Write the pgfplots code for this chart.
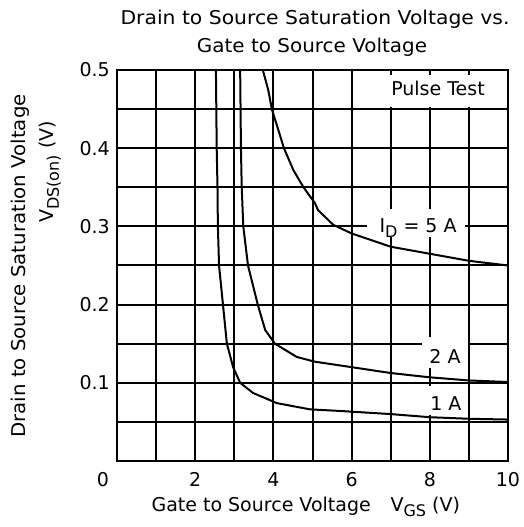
\documentclass[border=0pt]{standalone}
\usepackage{fontspec}
\setmainfont{DejaVu Sans}
\usepackage{pgfplots}
\pgfplotsset{compat=1.18}

\newcommand{\lbl}{\fontsize{19}{22}\selectfont}
\newcommand{\sub}[1]{\raisebox{-5pt}{\fontsize{16}{18}\selectfont #1}}

\begin{document}
\begin{tikzpicture}
\useasboundingbox (-117pt,-66pt) rectangle (406pt,461pt);
\begin{axis}[
  at={(0pt,0pt)}, anchor=south west,
  scale only axis, width=391pt, height=391pt,
  xmin=0, xmax=10, ymin=0, ymax=0.5,
  xtick={0,1,2,3,4,5,6,7,8,9,10},
  xticklabels={,,2,,4,,6,,8,,10},
  ytick={0,0.05,0.1,0.15,0.2,0.25,0.3,0.35,0.4,0.45,0.5},
  yticklabels={,,0.1,,0.2,,0.3,,0.4,,0.5},
  tick style={draw=none},
  xmajorgrids, ymajorgrids,
  grid style={draw=black, line width=2pt},
  major grid style={draw=black, line width=2pt},
  axis line style={black, line width=2pt},
  tick label style={font=\lbl, inner sep=0pt},
  xticklabel style={anchor=north, yshift=-11pt},
  yticklabel style={anchor=east, xshift=-7pt},
  clip=false,
]
% white patches behind the labels
\node[fill=white, inner sep=0pt, minimum width=112pt, minimum height=32pt] at (axis cs:8.23,0.4735) {};
\node[font=\lbl] at (axis cs:8.21,0.477) {Pulse Test};
\node[fill=white, inner sep=0pt, minimum width=98pt, minimum height=28pt] at (axis cs:7.65,0.304) {};
\node[fill=white, inner sep=0pt, minimum width=46pt, minimum height=31pt] at (axis cs:8.39,0.1388) {};
\node[fill=white, inner sep=0pt, minimum width=44pt, minimum height=29pt] at (axis cs:8.39,0.0774) {};

% I_D = 5 A
\addplot[black, line width=2pt] coordinates {
  (3.73,0.5) (3.87,0.474) (3.96,0.45) (4.10,0.4275) (4.27,0.4)
  (4.51,0.372) (4.77,0.35) (5.06,0.33) (5.14,0.321) (5.53,0.302)
  (6,0.291) (7,0.274) (8,0.265) (9,0.256) (10,0.25)
};
% I_D = 2 A
\addplot[black, line width=2pt] coordinates {
  (3.15,0.5) (3.16,0.45) (3.17,0.4) (3.19,0.35) (3.23,0.3)
  (3.35,0.25) (3.6,0.2) (3.79,0.1675) (4.04,0.15) (4.6,0.133)
  (5.06,0.127) (6,0.12) (7,0.1125) (8,0.107) (9,0.103) (10,0.101)
};
% I_D = 1 A
\addplot[black, line width=2pt] coordinates {
  (2.53,0.5) (2.54,0.45) (2.55,0.4) (2.57,0.35) (2.58,0.3)
  (2.61,0.25) (2.71,0.2) (2.81,0.15) (2.97,0.12) (3.15,0.1)
  (3.48,0.087) (4.09,0.074) (4.94,0.066) (5.7,0.064) (7,0.06)
  (8,0.056) (9,0.054) (10,0.053)
};

\node[font=\lbl, anchor=base] at (axis cs:7.70,0.2916) {I\sub{D} = 5 A};
\node[font=\lbl, anchor=base] at (axis cs:8.39,0.1253) {2 A};
\node[font=\lbl, anchor=base] at (axis cs:8.41,0.0652) {1 A};
\end{axis}

% corner zero, axis labels and title
\node[font=\lbl, anchor=base] at (-14pt,-25pt) {0};
\node[font=\lbl, anchor=base west] at (31pt,-50pt) {Gate to Source Voltage};
\node[font=\lbl, anchor=base west] at (270pt,-50pt) {V\sub{GS} (V)};
\node[font=\lbl, anchor=base, rotate=90] at (-91pt,195pt) {\scalebox{1.04}[1]{Drain to Source Saturation Voltage}};
\node[font=\lbl, anchor=base, rotate=90] at (-63pt,289pt) {V\sub{DS(on)} (V)};
\node[font=\lbl, anchor=base] at (198pt,436pt) {\scalebox{1.07}[1]{Drain to Source Saturation Voltage vs.}};
\node[font=\lbl, anchor=base] at (195pt,408pt) {\scalebox{1.05}[1]{Gate to Source Voltage}};
\end{tikzpicture}
\end{document}
